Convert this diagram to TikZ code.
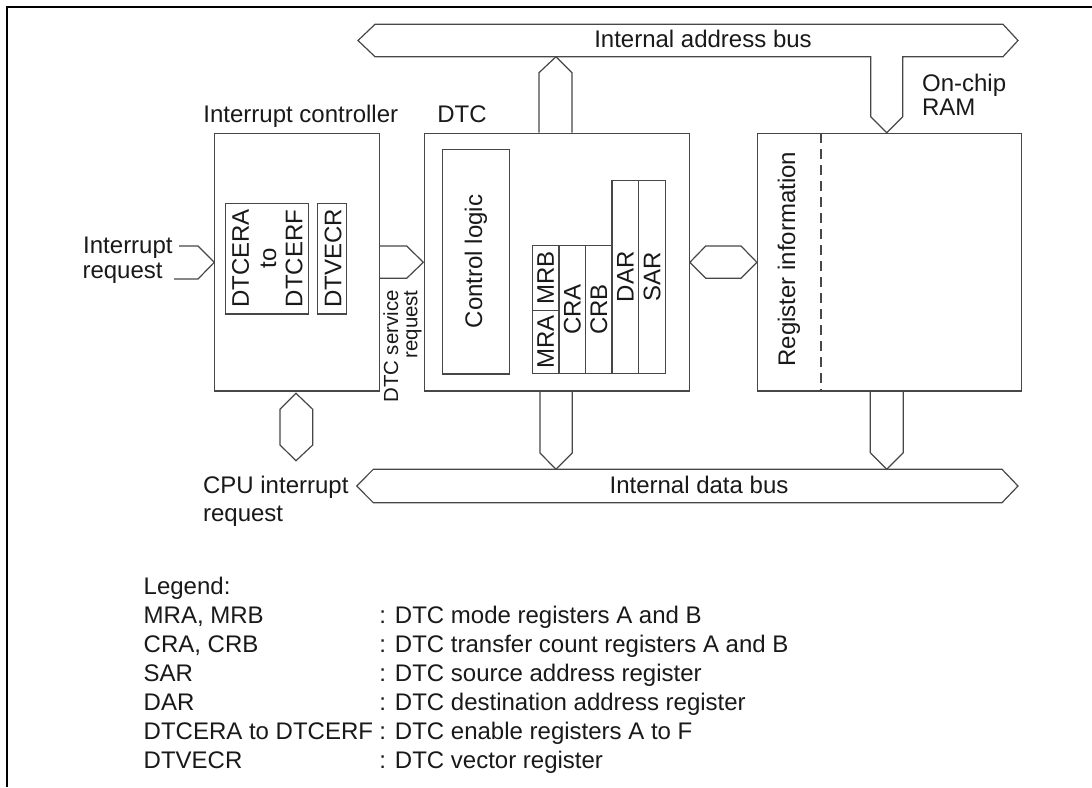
\documentclass[tikz,border=0pt]{standalone}
\usepackage{fontspec}
\setmainfont{Liberation Sans}
\usetikzlibrary{fit}
\begin{document}
\begin{tikzpicture}[x=0.5pt,y=-0.5pt,
  ln/.style={draw=black!72, line width=0.6pt, line join=miter},
  box/.style={ln, inner sep=0pt, rectangle},
  lbl/.style={font=\fontsize{12}{14}\selectfont, inner sep=0pt, text=black!90},
  rlbl/.style={lbl, rotate=90},
  small/.style={font=\fontsize{10.2}{9.6}\selectfont, inner sep=0pt, text=black!90}]
\useasboundingbox (0,0) rectangle (1092,787);
% frame
\draw[line width=1.3pt] (7,787) -- (7,7) -- (1092,7);

% boxes
\node[box, fit={(214.3,133.3) (379.3,391)}] (ic) {};
\node[box, fit={(225.3,203.3) (308.3,314)}] (era) {};
\node[box, fit={(317.7,203.3) (346.7,314)}] (vec) {};
\node[box, fit={(424.3,133.3) (689.3,391)}] (dtc) {};
\node[box, fit={(442.7,149.3) (509.3,374)}] (cl) {};
\node[box, fit={(532.3,245.7) (559,373.3)}] (mr) {};
\node[box, fit={(559,245.7) (585.7,373.3)}] (cra) {};
\node[box, fit={(585.7,245.7) (612,373.3)}] (crb) {};
\node[box, fit={(612,180.3) (638.7,373.3)}] (dar) {};
\node[box, fit={(638.7,180.3) (665.3,373.3)}] (sar) {};
\node[box, fit={(757.5,133.3) (1021.7,391)}] (ram) {};
\coordinate (mrdiv) at (532.3,310.7);
\draw[ln] (mrdiv) -- (mrdiv -| mr.east);
\coordinate (dash) at (821,133.3);
\draw[ln, dash pattern=on 5pt off 3pt] (dash) -- (dash |- ram.south);

% labels of blocks
\node[lbl, anchor=base west] (icl) at (203,122) {Interrupt controller};
\node[lbl, anchor=base west] (dtcl) at (437,122) {DTC};
\node[lbl, anchor=base west] (oc) at (921.7,91) {On-chip};
\node[lbl, anchor=base west] (ramt) at (921.7,115.5) {RAM};

% rotated texts
\node[rlbl] (t1) at (240.5,258.5) {DTCERA};
\node[rlbl] (t2) at (268.5,258.5) {to};
\node[rlbl] (t3) at (294,258.5) {DTCERF};
\node[rlbl] (t4) at (333,258.5) {DTVECR};
\node[rlbl] (t5) at (476,261.5) {Control logic};
\node[rlbl] (t6) at (545.7,342) {MRA};
\node[rlbl] (t7) at (545.7,278) {MRB};
\node[rlbl] (t8) at (572.3,309.5) {CRA};
\node[rlbl] (t9) at (598.8,309.5) {CRB};
\node[rlbl] (t10) at (625.3,276.8) {DAR};
\node[rlbl] (t11) at (652,276.8) {SAR};
\node[rlbl] (t12) at (789,259) {Register information};
\node[small, rotate=90, align=right, anchor=east] (dsr) at (402.5,290) {DTC service\\request};

% interrupt request input
\node[lbl, anchor=base east] (ir1) at (173,253) {Interrupt};
\node[lbl, anchor=base east] (ir2) at (163,278.5) {request};
\coordinate (irtip) at (214.3,262.3);
\draw[ln] (179,246) -- (198,246) -- (irtip) -- (198,279) -- (174,279);

% DTC service request arrow
\coordinate (dstip) at (423.3,262.3);
\draw[ln] (ic.east |- 0,246) -- (406.7,246) -- (dstip) -- (406.7,278.3) -- (ic.east |- 0,278.3);

% DTC <-> RAM
\draw[ln] (dtc.east |- 0,262.3) -- (705.7,246) -- (741,246) -- (ram.west |- 0,262.3) -- (741,278.3) -- (705.7,278.3) -- cycle;

% CPU interrupt hexagon
\draw[ln] (296,393.3) -- (312.7,409.3) -- (312.7,445) -- (296,460.7) -- (280,445) -- (280,409.3) -- cycle;
\node[lbl, anchor=base west] (cpu1) at (202.7,493.3) {CPU interrupt};
\node[lbl, anchor=base west] (cpu2) at (202.7,521.5) {request};

% internal address bus
\draw[ln] (358,40.5) -- (375,24.3) -- (1003,24.3) -- (1018,40.5) -- (1003,56.7)
  -- (902.7,56.7) -- (902.7,116.7) -- (ram.north -| 886.7,0) -- (870.7,116.7) -- (870.7,56.7)
  -- (375,56.7) -- cycle;
\draw[ln] (dtc.north -| 539,0) -- (539,72.7) -- (556,56.7) -- (572,72.7) -- (dtc.north -| 572,0);
\node[lbl, anchor=base] (iab) at (703,47.5) {Internal address bus};

% internal data bus
\draw[ln] (356.7,486) -- (373.3,469.3) -- (1002,469.3) -- (1018,486) -- (1002,502.7) -- (373.3,502.7) -- cycle;
\draw[ln] (dtc.south -| 540,0) -- (540,453) -- (556,469.3) -- (572.3,453) -- (dtc.south -| 572.3,0);
\draw[ln] (ram.south -| 870.3,0) -- (870.3,452.7) -- (886.7,469.3) -- (903.3,452.7) -- (ram.south -| 903.3,0);
\node[lbl, anchor=base] (idb) at (699,493.3) {Internal data bus};

% legend
\node[lbl, anchor=base west] (lg0) at (143.3,594) {Legend:};
\node[lbl, anchor=base west] (lg1) at (143.3,623) {MRA, MRB};
\node[lbl, anchor=base west] (lg2) at (143.3,652) {CRA, CRB};
\node[lbl, anchor=base west] (lg3) at (143.3,681) {SAR};
\node[lbl, anchor=base west] (lg4) at (143.3,710) {DAR};
\node[lbl, anchor=base west] (lg5) at (143.3,739) {DTCERA to DTCERF};
\node[lbl, anchor=base west] (lg6) at (143.3,768) {DTVECR};
\node[lbl, anchor=base west] (ld1) at (379,623) {: DTC mode registers A and B};
\node[lbl, anchor=base west] (ld2) at (379,652) {: DTC transfer count registers A and B};
\node[lbl, anchor=base west] (ld3) at (379,681) {: DTC source address register};
\node[lbl, anchor=base west] (ld4) at (379,710) {: DTC destination address register};
\node[lbl, anchor=base west] (ld5) at (379,739) {: DTC enable registers A to F};
\node[lbl, anchor=base west] (ld6) at (379,768) {: DTC vector register};
\end{tikzpicture}
\end{document}
